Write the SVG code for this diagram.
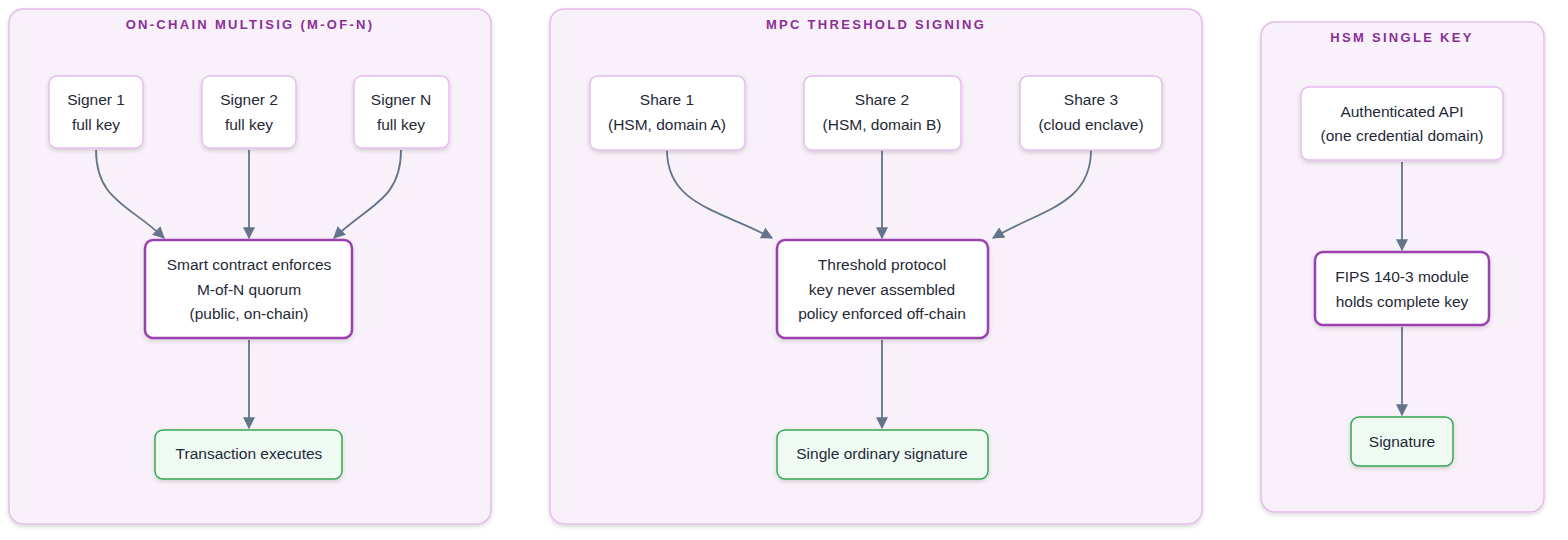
<svg xmlns="http://www.w3.org/2000/svg" width="1568" height="540" viewBox="0 0 1568 540">
<style>
.cl{fill:#f9f1f9;stroke:#e4bdea;stroke-width:1.5}
.tt{font:bold 13px "Liberation Sans",Arial,sans-serif;fill:#8b2f98;letter-spacing:2.3px;text-anchor:middle}
.n{fill:#fff;stroke:#e6bdef;stroke-width:1.5}
.m{fill:#fff;stroke:#9b3faf;stroke-width:2.5}
.g{fill:#eefaf2;stroke:#34a853;stroke-width:1.5}
.t{font:15.5px "Liberation Sans",Arial,sans-serif;fill:#1f2937;text-anchor:middle}
.e{fill:none;stroke:#64748b;stroke-width:1.8;marker-end:url(#a)}
</style>
<defs>
<marker id="a" viewBox="0 0 10 10" refX="9" refY="5" markerWidth="12" markerHeight="12" markerUnits="userSpaceOnUse" orient="auto"><path d="M0,0L10,5L0,10z" fill="#64748b"/></marker>
<filter id="s" x="-10%" y="-10%" width="120%" height="130%"><feDropShadow dx="0" dy="2" stdDeviation="2" flood-opacity="0.15"/></filter>
</defs>
<g id="c1"><rect class="cl" x="9" y="9" width="482" height="515" rx="14" filter="url(#s)"/><text class="tt" x="250" y="29">ON-CHAIN MULTISIG (M-OF-N)</text></g>
<g id="c2"><rect class="cl" x="550" y="9" width="652" height="515" rx="14" filter="url(#s)"/><text class="tt" x="876" y="29">MPC THRESHOLD SIGNING</text></g>
<g id="c3"><rect class="cl" x="1261" y="22" width="283" height="490" rx="14" filter="url(#s)"/><text class="tt" x="1402" y="42">HSM SINGLE KEY</text></g>
<g id="edges">
<path class="e" d="M96,150C96,200 130,205 164,238"/>
<path class="e" d="M249,150V238"/>
<path class="e" d="M401,150C401,200 368,205 334,238"/>
<path class="e" d="M249,340V428"/>
<path class="e" d="M667,150C667,205 720,210 772,238"/>
<path class="e" d="M882,150V238"/>
<path class="e" d="M1091,150C1091,205 1040,210 993,238"/>
<path class="e" d="M882,340V428"/>
<path class="e" d="M1402,162V250"/>
<path class="e" d="M1402,327V415"/>
</g>
<g id="signer1"><rect class="n" x="49" y="76" width="94" height="72" rx="8" filter="url(#s)"/><text class="t" x="96" y="105">Signer 1</text><text class="t" x="96" y="130">full key</text></g>
<g id="signer2"><rect class="n" x="202" y="76" width="94" height="72" rx="8" filter="url(#s)"/><text class="t" x="249" y="105">Signer 2</text><text class="t" x="249" y="130">full key</text></g>
<g id="signerN"><rect class="n" x="354" y="76" width="95" height="72" rx="8" filter="url(#s)"/><text class="t" x="401" y="105">Signer N</text><text class="t" x="401" y="130">full key</text></g>
<g id="contract"><rect class="m" x="145" y="240" width="207" height="98" rx="8" filter="url(#s)"/><text class="t" x="249" y="270">Smart contract enforces</text><text class="t" x="249" y="295">M-of-N quorum</text><text class="t" x="249" y="319">(public, on-chain)</text></g>
<g id="tx"><rect class="g" x="155" y="430" width="187" height="49" rx="8" filter="url(#s)"/><text class="t" x="249" y="459">Transaction executes</text></g>
<g id="share1"><rect class="n" x="590" y="76" width="155" height="74" rx="8" filter="url(#s)"/><text class="t" x="667" y="105">Share 1</text><text class="t" x="667" y="130">(HSM, domain A)</text></g>
<g id="share2"><rect class="n" x="804" y="76" width="157" height="74" rx="8" filter="url(#s)"/><text class="t" x="882" y="105">Share 2</text><text class="t" x="882" y="130">(HSM, domain B)</text></g>
<g id="share3"><rect class="n" x="1020" y="76" width="142" height="74" rx="8" filter="url(#s)"/><text class="t" x="1091" y="105">Share 3</text><text class="t" x="1091" y="130">(cloud enclave)</text></g>
<g id="threshold"><rect class="m" x="777" y="240" width="211" height="98" rx="8" filter="url(#s)"/><text class="t" x="882" y="270">Threshold protocol</text><text class="t" x="882" y="295">key never assembled</text><text class="t" x="882" y="319">policy enforced off-chain</text></g>
<g id="single"><rect class="g" x="777" y="430" width="211" height="49" rx="8" filter="url(#s)"/><text class="t" x="882" y="459">Single ordinary signature</text></g>
<g id="api"><rect class="n" x="1301" y="87" width="202" height="73" rx="8" filter="url(#s)"/><text class="t" x="1402" y="117">Authenticated API</text><text class="t" x="1402" y="141">(one credential domain)</text></g>
<g id="fips"><rect class="m" x="1315" y="252" width="174" height="73" rx="8" filter="url(#s)"/><text class="t" x="1402" y="282">FIPS 140-3 module</text><text class="t" x="1402" y="307">holds complete key</text></g>
<g id="sig"><rect class="g" x="1351" y="417" width="102" height="49" rx="8" filter="url(#s)"/><text class="t" x="1402" y="447">Signature</text></g>
</svg>
